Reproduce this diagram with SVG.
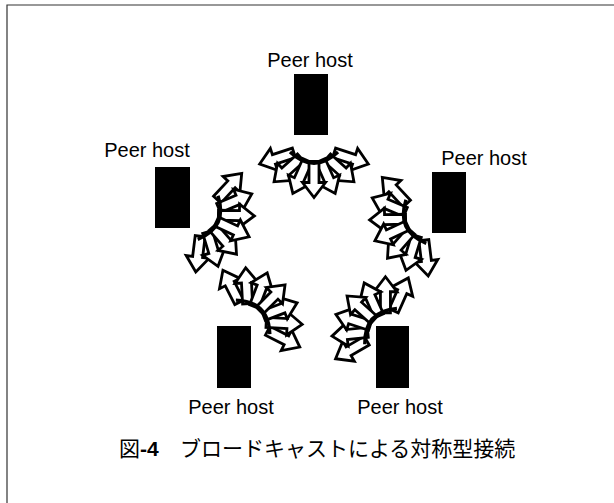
<svg xmlns="http://www.w3.org/2000/svg" xmlns:xlink="http://www.w3.org/1999/xlink" width="614" height="503" viewBox="0 0 614 503">
<style>
.lbl{font-family:"Liberation Sans",Arial,sans-serif;font-size:20px;fill:#000;text-anchor:middle}
.host{fill:#000}
.ar{fill:#fff;stroke:#000;stroke-width:2.8;stroke-linejoin:miter}
.band{fill:none;stroke:#000;stroke-width:3.4}
.frame{stroke:#333;stroke-width:1.2;fill:none}
.cap{font-family:"Noto Sans CJK JP","Liberation Sans",sans-serif;font-size:21px;fill:#000}
</style>
<defs>
<path id="ar" class="ar" d="M-2,-5 L19,-5 L19,-11.5 L34,0 L19,11.5 L19,5 L-2,5 Z"/>
<g id="fan">
<use xlink:href="#ar" href="#ar" transform="translate(-22,-14) rotate(162)"/>
<use xlink:href="#ar" href="#ar" transform="translate(22,-14) rotate(18)"/>
<use xlink:href="#ar" href="#ar" transform="translate(-14.67,-8.44) rotate(138)"/>
<use xlink:href="#ar" href="#ar" transform="translate(14.67,-8.44) rotate(42)"/>
<use xlink:href="#ar" href="#ar" transform="translate(-7.33,-5.11) rotate(114)"/>
<use xlink:href="#ar" href="#ar" transform="translate(7.33,-5.11) rotate(66)"/>
<use xlink:href="#ar" href="#ar" transform="translate(0,-4) rotate(90)"/>
<path class="band" d="M-24,-15.5 Q0,7 24,-15.5"/>
</g>
</defs>
<rect width="614" height="503" fill="#fff"/>
<path class="frame" d="M7,503 V5 H614"/>

<g id="host-top"><rect class="host" x="294" y="74" width="34" height="61"/><text class="lbl" x="310" y="67">Peer host</text></g>
<g id="host-left"><rect class="host" x="155" y="167" width="35" height="61"/><text class="lbl" x="147" y="157">Peer host</text></g>
<g id="host-right"><rect class="host" x="432" y="172" width="34" height="61"/><text class="lbl" x="484" y="165">Peer host</text></g>
<g id="host-bottom-left"><rect class="host" x="217" y="326" width="34" height="62"/><text class="lbl" x="231" y="414">Peer host</text></g>
<g id="host-bottom-right"><rect class="host" x="376" y="326" width="33" height="62"/><text class="lbl" x="400" y="414">Peer host</text></g>

<g id="connectors">
<use xlink:href="#fan" href="#fan" transform="translate(314,172) translate(0,-4.5)"/>
<use xlink:href="#fan" href="#fan" transform="translate(226,226) rotate(-65) translate(0,-4.5)"/>
<use xlink:href="#fan" href="#fan" transform="translate(398,230) rotate(65) translate(0,-4.5)"/>
<use xlink:href="#fan" href="#fan" transform="translate(267,303) rotate(-135) translate(0,-4.5)"/>
<use xlink:href="#fan" href="#fan" transform="translate(366,313) rotate(132) translate(0,-4.5)"/>
</g>

<g id="caption"><text class="cap" x="119" y="456">図<tspan font-family="Liberation Sans" font-weight="bold">-4</tspan><tspan x="180">ブロードキャストによる対称型接続</tspan></text></g>
</svg>
